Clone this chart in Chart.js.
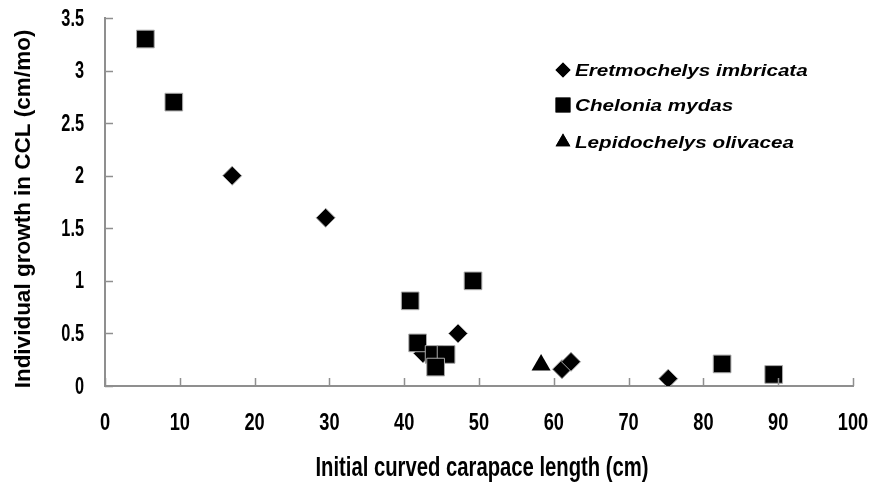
<!DOCTYPE html>
<html>
<head>
<meta charset="utf-8">
<script src="https://cdn.jsdelivr.net/npm/chart.js@4.4.1/dist/chart.umd.min.js"></script>
<style>
  html, body { margin: 0; padding: 0; background: #fff; }
  #wrap { width: 875px; height: 483px; position: relative; }
</style>
</head>
<body>
<div id="wrap"><canvas id="c" width="875" height="483"></canvas></div>
<script>
// Data
const seriesNames = ['Eretmochelys imbricata', 'Chelonia mydas', 'Lepidochelys olivacea'];
const eretmochelysX = [17.0, 29.5, 47.2, 42.5, 61.1, 62.3, 75.3];
const eretmochelysY = [2.0, 1.6, 0.5, 0.31, 0.16, 0.23, 0.07];
const cheloniaX = [5.4, 9.2, 49.2, 40.8, 41.8, 44.0, 45.6, 44.2, 82.5, 89.4];
const cheloniaY = [3.3, 2.7, 1.0, 0.81, 0.41, 0.30, 0.30, 0.18, 0.21, 0.11];
const lepidochelysX = [58.3];
const lepidochelysY = [0.20];
const xTicks = [0, 10, 20, 30, 40, 50, 60, 70, 80, 90, 100];
const yTicks = [0, 0.5, 1, 1.5, 2, 2.5, 3, 3.5];
const xTitle = 'Initial curved carapace length (cm)';
const yTitle = 'Individual growth in CCL (cm/mo)';

const pts = (xs, ys) => xs.map((x, i) => ({ x: x, y: ys[i] }));

const FAMILY = '"Liberation Sans", Arial, sans-serif';

// draw text horizontally scaled by sx, anchored per align
function drawScaled(ctx, text, x, y, sx, align) {
  ctx.save();
  ctx.translate(x, y);
  ctx.scale(sx, 1);
  ctx.textAlign = align;
  ctx.fillText(text, 0, 0);
  ctx.restore();
}

const axisDecor = {
  id: 'axisDecor',
  afterDraw(chart) {
    const ctx = chart.ctx;
    const ca = chart.chartArea;
    const xs = chart.scales.x, ys = chart.scales.y;
    ctx.save();
    // inward tick marks
    ctx.strokeStyle = '#8f8f8f';
    ctx.lineWidth = 1.5;
    xs.ticks.forEach(t => {
      const px = Math.round(xs.getPixelForValue(t.value)) + 0.5;
      ctx.beginPath(); ctx.moveTo(px, ca.bottom); ctx.lineTo(px, ca.bottom - 8); ctx.stroke();
    });
    ys.ticks.forEach(t => {
      const py = Math.round(ys.getPixelForValue(t.value)) + 0.5;
      ctx.beginPath(); ctx.moveTo(ca.left, py); ctx.lineTo(ca.left + 8, py); ctx.stroke();
    });
    // tick labels (condensed bold)
    ctx.fillStyle = '#000';
    ctx.textBaseline = 'middle';
    ctx.font = 'bold 24px ' + FAMILY;
    xs.ticks.forEach(t => {
      drawScaled(ctx, String(t.value), xs.getPixelForValue(t.value), 423, 0.76, 'center');
    });
    ys.ticks.forEach(t => {
      drawScaled(ctx, String(t.value), 84, ys.getPixelForValue(t.value) + 1, 0.68, 'right');
    });
    // axis titles
    ctx.font = 'bold 27px ' + FAMILY;
    drawScaled(ctx, xTitle, 482, 469, 0.75, 'center');
    ctx.save();
    ctx.translate(24, 209);
    ctx.rotate(-Math.PI / 2);
    ctx.font = 'bold 22.5px ' + FAMILY;
    ctx.textAlign = 'center';
    ctx.fillText(yTitle, 0, 0);
    ctx.restore();
    ctx.restore();
  }
};

const customLegend = {
  id: 'customLegend',
  afterDraw(chart) {
    const ctx = chart.ctx;
    const rows = [70, 105, 142];
    ctx.save();
    ctx.font = 'italic bold 16.5px ' + FAMILY;
    ctx.textBaseline = 'middle';
    [0, 1, 2].forEach((di, i) => {
      const ds = chart.data.datasets[di];
      const y = rows[i];
      const mx = 563;
      ctx.fillStyle = '#000';
      Chart.helpers.drawPoint(ctx, {
        pointStyle: ds.pointStyle,
        radius: ds.pointStyle === 'rect' ? 10.5 : (ds.pointStyle === 'triangle' ? 8.5 : 7.5),
        rotation: 0,
        borderWidth: 0
      }, mx, y);
      ctx.fill();
      drawScaled(ctx, ds.label, 575, y + 1, 1.25, 'left');
    });
    ctx.restore();
  }
};

new Chart(document.getElementById('c'), {
  type: 'scatter',
  data: {
    datasets: [
      {
        label: seriesNames[0],
        data: pts(eretmochelysX, eretmochelysY),
        pointStyle: 'rectRot',
        pointRadius: 9.5,
        backgroundColor: '#000',
        borderColor: '#aaa',
        borderWidth: 1,
        order: 2
      },
      {
        label: seriesNames[1],
        data: pts(cheloniaX, cheloniaY),
        pointStyle: 'rect',
        pointRadius: 12.5,
        backgroundColor: '#000',
        borderColor: '#aaa',
        borderWidth: 1,
        order: 0
      },
      {
        label: seriesNames[2],
        data: pts(lepidochelysX, lepidochelysY),
        pointStyle: 'triangle',
        pointRadius: 11,
        backgroundColor: '#000',
        borderColor: '#000',
        borderWidth: 0,
        order: 1
      }
    ]
  },
  options: {
    responsive: false,
    animation: false,
    layout: { padding: { top: 18, right: 22, left: 0, bottom: 0 } },
    plugins: {
      legend: { display: false },
      tooltip: { enabled: false }
    },
    scales: {
      x: {
        type: 'linear',
        min: 0, max: 100,
        afterFit: s => { s.height = 97; },
        afterBuildTicks: s => { s.ticks = xTicks.map(v => ({ value: v })); },
        grid: { display: false, drawTicks: false },
        border: { display: true, color: '#8f8f8f', width: 2 },
        ticks: { display: false }
      },
      y: {
        type: 'linear',
        min: 0, max: 3.5,
        afterFit: s => { s.width = 105; },
        afterBuildTicks: s => { s.ticks = yTicks.map(v => ({ value: v })); },
        grid: { display: false, drawTicks: false },
        border: { display: true, color: '#8f8f8f', width: 2 },
        ticks: { display: false }
      }
    }
  },
  plugins: [axisDecor, customLegend]
});
</script>
</body>
</html>
